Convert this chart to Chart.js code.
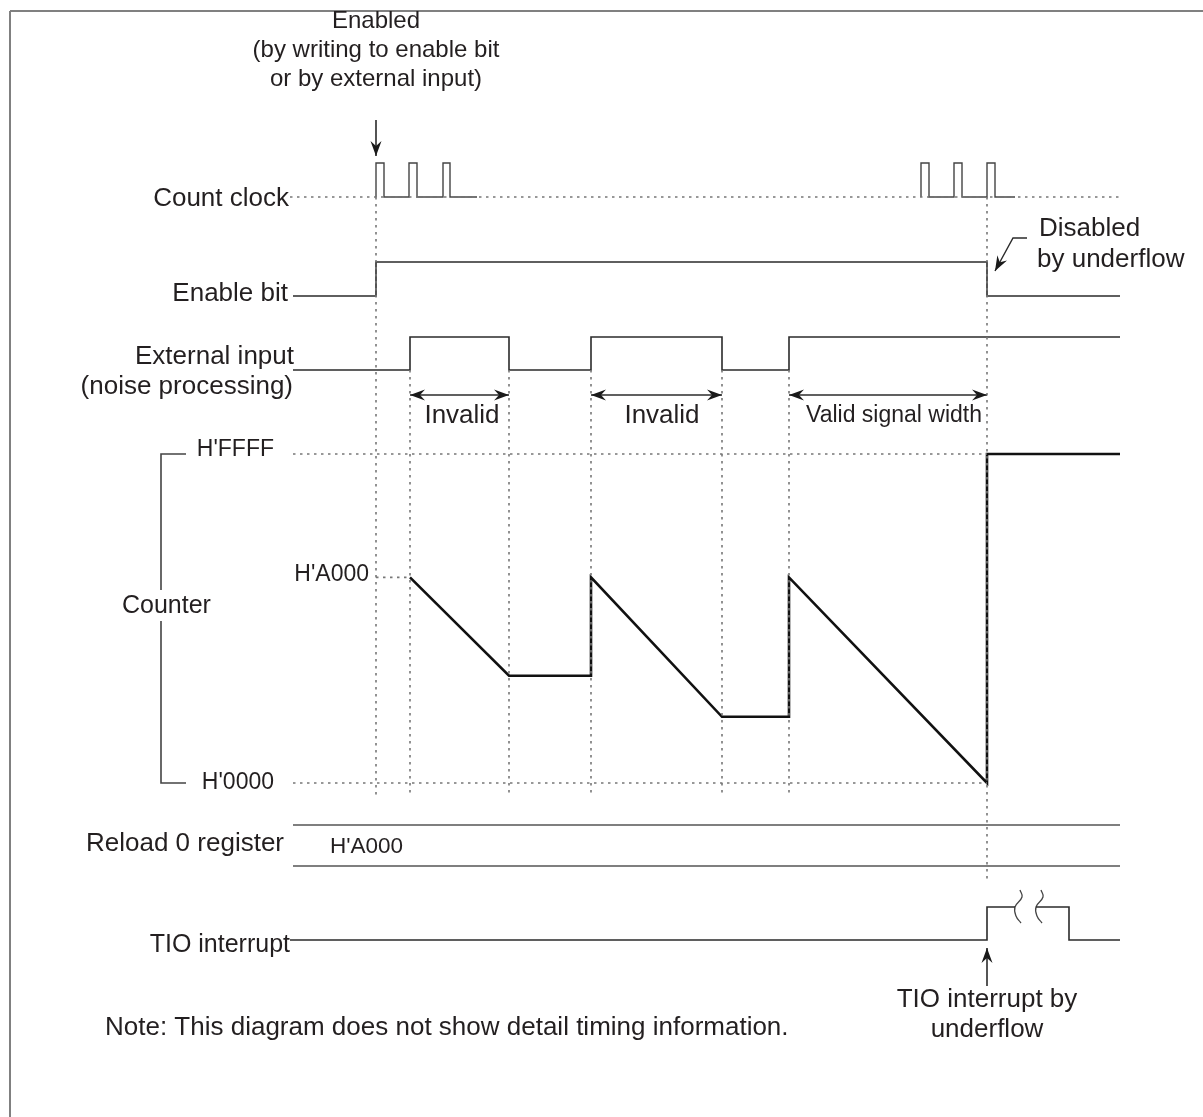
<!DOCTYPE html>
<html><head><meta charset="utf-8">
<script src="https://cdn.jsdelivr.net/npm/chart.js@4/dist/chart.umd.min.js"></script>
<style>html,body{margin:0;padding:0;background:#fff}canvas{display:block}</style>
</head><body>
<canvas id="c" width="1203" height="1117"></canvas>
<script>
// ---------------- timing data (time units along the x axis) ----------------
const clockBurst1T = [376,376,384,384,409,409,417,417,443,443,450,450,477];
const clockBurst2T = [921,921,929,929,954,954,962,962,987,987,995,995,1015];
const clockLevels  = [0,1,1,0,0,1,1,0,0,1,1,0,0];
const clockSpanT   = [290,1120];

const enableT = [293,376,376,987,987,1120];
const enableL = [0,0,1,1,0,0];

const extT = [293,410,410,509,509,591,591,722,722,789,789,1120];
const extL = [0,0,1,1,0,0,1,1,0,0,1,1];

const counterT = [410,509,591,591,722,789,789,987,987,1120];
const counterV = [0xA000,0x5380,0x5380,0xA000,0x3380,0x3380,0xA000,0x0000,0xFFFF,0xFFFF];
const counterTickLabels = ["H'FFFF","H'A000","H'0000"];
const counterTickValues = [0xFFFF,0xA000,0x0000];

const reloadLabel = "H'A000";
const reloadSpanT = [293,1120];

const tioT1 = [290,987,987,1015];
const tioL1 = [0,0,1,1];
const tioT2 = [1036,1069,1069,1120];
const tioL2 = [1,1,0,0];

const markerT = [376,410,509,591,722,789,987];
const intervalStartT = [410,591,789];
const intervalEndT   = [509,722,987];
const intervalLabels = ['Invalid','Invalid','Valid signal width'];

const laneLabels = ['Count clock','Enable bit','External input','(noise processing)','Counter','Reload 0 register','TIO interrupt'];

// ---------------- layout (positions in canvas units) ----------------
const LANE = {clock:[197,163], enable:[296,262], ext:[370,337], counter:[783,454], reload:[825,866], tio:[940,907]};
function yOf(lane, level){ return LANE[lane][0] + level*(LANE[lane][1]-LANE[lane][0]); }
function yCounter(v){ return yOf('counter', v/0xFFFF); }
function pts(ts, ys){ return ts.map((t,i)=>({x:t, y:ys[i]})); }

const INK = '#231f20';
const WAVE = '#2b2b2b';
const DOT = '#777777';
const FONT = "'Liberation Sans', Arial, Helvetica, sans-serif";

const datasets = [];
function addLine(data, o={}){
  datasets.push(Object.assign({data, borderColor:WAVE, borderWidth:1.6, pointRadius:0, tension:0,
    fill:false, borderJoinStyle:'miter', borderCapStyle:'butt', clip:false}, o));
}
const dotted = {borderColor:DOT, borderWidth:1.6, borderDash:[2.5,4.5]};

// frame
addLine([{x:10,y:11},{x:1203,y:11}], {borderColor:'#808080', borderWidth:2});
addLine([{x:10,y:11},{x:10,y:1117}], {borderColor:'#808080', borderWidth:2});

// dotted guides
addLine(pts(clockSpanT, clockSpanT.map(()=>yOf('clock',0))), dotted);
markerT.forEach(t=>{
  let top = yOf('ext',0), bot = 795;
  if (t===376) top = yOf('clock',0);
  if (t===987) { top = yOf('clock',0); bot = 880; }
  addLine([{x:t,y:top},{x:t,y:bot}], dotted);
});
addLine([{x:293,y:yCounter(0xFFFF)},{x:987,y:yCounter(0xFFFF)}], dotted);
addLine([{x:376,y:yCounter(0xA000)},{x:410,y:yCounter(0xA000)}], dotted);
addLine([{x:293,y:yCounter(0)},{x:987,y:yCounter(0)}], dotted);

// count clock
addLine(pts(clockBurst1T, clockLevels.map(l=>yOf('clock',l))), {borderWidth:1.4, borderColor:'#444'});
addLine(pts(clockBurst2T, clockLevels.map(l=>yOf('clock',l))), {borderWidth:1.4, borderColor:'#444'});
// enable bit
addLine(pts(enableT, enableL.map(l=>yOf('enable',l))));
// external input
addLine(pts(extT, extL.map(l=>yOf('ext',l))));
// counter
addLine(pts(counterT, counterV.map(yCounter)), {borderWidth:2.6, borderColor:'#111'});
// counter bracket (broken around the "Counter" label)
addLine([{x:186,y:yCounter(0xFFFF)},{x:161,y:yCounter(0xFFFF)},{x:161,y:590}], {borderWidth:1.6, borderColor:'#444'});
addLine([{x:161,y:621},{x:161,y:yCounter(0)},{x:186,y:yCounter(0)}], {borderWidth:1.6, borderColor:'#444'});
// reload register
addLine(pts(reloadSpanT, reloadSpanT.map(()=>yOf('reload',0))), {borderColor:'#555'});
addLine(pts(reloadSpanT, reloadSpanT.map(()=>yOf('reload',1))), {borderColor:'#555'});
// TIO interrupt
addLine(pts(tioT1, tioL1.map(l=>yOf('tio',l))));
addLine(pts(tioT2, tioL2.map(l=>yOf('tio',l))));
// break squiggles
[0,21].forEach(dx=>{
  const base = 1015+dx, yh = yOf('tio',1);
  addLine([{x:base+5,y:yh-17},{x:base+7,y:yh-10},{x:base,y:yh},{x:base+1,y:yh+9},{x:base+6,y:yh+16}],
    {tension:0.45, borderWidth:1.3, borderColor:'#444', cubicInterpolationMode:'default'});
});

// arrows
addLine([{x:376,y:120},{x:376,y:156}], {arrow:'end', borderWidth:1.6});
addLine([{x:1027,y:238},{x:1013,y:238},{x:995,y:271}], {arrow:'end', borderWidth:1.4});
addLine([{x:987,y:986},{x:987,y:948}], {arrow:'end', borderWidth:1.6});
intervalStartT.forEach((t,i)=>{
  addLine([{x:t,y:395},{x:intervalEndT[i],y:395}], {arrow:'both', borderWidth:1.6});
});

// texts
const texts = [];
function T(text, x, y, align, size){ texts.push({text,x,y,align,size}); }
const FS = 26;
T('Enabled', 376, 21, 'center', 24);
T('(by writing to enable bit', 376, 50, 'center', 24);
T('or by external input)', 376, 79, 'center', 24);
T(laneLabels[0], 289, 199, 'right', FS);
T('Disabled', 1039, 229, 'left', FS);
T('by underflow', 1037, 260, 'left', FS);
T(laneLabels[1], 288, 294, 'right', FS);
T(laneLabels[2], 294, 357, 'right', FS);
T(laneLabels[3], 293, 387, 'right', FS);
const intervalLabelX = [462, 662, 894];
intervalLabels.forEach((s,i)=>{
  T(s, intervalLabelX[i], 416, 'center', i<2 ? FS : 23);
});
T(counterTickLabels[0], 274, 450, 'right', 23);
T(counterTickLabels[1], 369, 575, 'right', 23);
T(counterTickLabels[2], 274, 783, 'right', 23);
T(laneLabels[4], 122, 606, 'left', 25);
T(laneLabels[5], 284, 844, 'right', FS);
T(reloadLabel, 330, 847, 'left', 22.5);
T(laneLabels[6], 290, 945, 'right', 25);
T('TIO interrupt by', 987, 1000, 'center', FS);
T('underflow', 987, 1030, 'center', FS);
T('Note: This diagram does not show detail timing information.', 105, 1028, 'left', FS);

function drawHead(ctx, tip, from){
  const ang = Math.atan2(tip.y-from.y, tip.x-from.x);
  const L = 15, W = 5.5, N = 10;
  ctx.save();
  ctx.translate(tip.x, tip.y); ctx.rotate(ang);
  ctx.beginPath();
  ctx.moveTo(0,0); ctx.lineTo(-L,-W); ctx.lineTo(-N,0); ctx.lineTo(-L,W); ctx.closePath();
  ctx.fillStyle = '#1a1a1a'; ctx.fill();
  ctx.restore();
}

const arrowPlugin = {
  id:'arrows',
  afterDatasetsDraw(chart){
    const ctx = chart.ctx;
    chart.data.datasets.forEach((ds,i)=>{
      if (!ds.arrow) return;
      const p = chart.getDatasetMeta(i).data;
      const n = p.length;
      if (ds.arrow==='end' || ds.arrow==='both') drawHead(ctx, p[n-1], p[n-2]);
      if (ds.arrow==='both') drawHead(ctx, p[0], p[1]);
    });
  }
};
const textPlugin = {
  id:'texts',
  afterDraw(chart){
    const ctx = chart.ctx, xs = chart.scales.x, ys = chart.scales.y;
    ctx.save();
    ctx.fillStyle = INK;
    ctx.textBaseline = 'middle';
    texts.forEach(t=>{
      ctx.font = `${t.size}px ${FONT}`;
      ctx.textAlign = t.align;
      ctx.fillText(t.text, xs.getPixelForValue(t.x), ys.getPixelForValue(t.y));
    });
    ctx.restore();
  }
};
const bgPlugin = {
  id:'bg',
  beforeDraw(chart){ const c=chart.ctx; c.save(); c.fillStyle='#fff'; c.fillRect(0,0,chart.width,chart.height); c.restore(); }
};

new Chart(document.getElementById('c'), {
  type:'line',
  data:{datasets},
  options:{
    responsive:false, animation:false, devicePixelRatio:1,
    layout:{padding:0},
    plugins:{legend:{display:false}, tooltip:{enabled:false}},
    elements:{line:{borderCapStyle:'butt'}},
    scales:{
      x:{type:'linear', min:0, max:1203, display:false},
      y:{type:'linear', min:0, max:1117, reverse:true, display:false}
    }
  },
  plugins:[bgPlugin, arrowPlugin, textPlugin]
});
</script>
</body></html>
